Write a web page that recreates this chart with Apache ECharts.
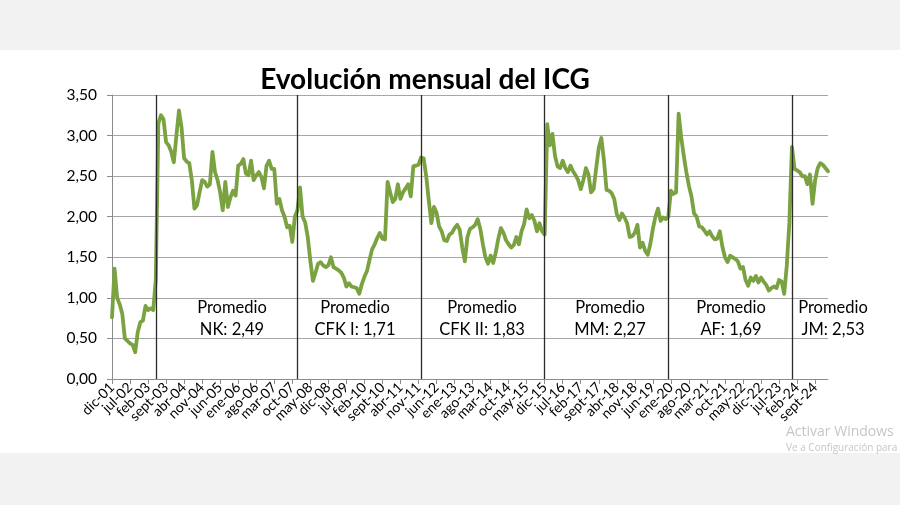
<!DOCTYPE html>
<html><head><meta charset="utf-8">
<script src="https://cdn.jsdelivr.net/npm/echarts@6/dist/echarts.min.js"></script>
<style>
html,body{margin:0;padding:0}
#c{width:900px;height:505px;background:linear-gradient(#f2f2f2 0px,#f2f2f2 50px,#ffffff 50px,#ffffff 453px,#f2f2f2 453px,#f2f2f2 505px)}
</style>
</head><body><div id="c"></div>
<script>
// Monthly ICG, dic-01 .. feb-25
const icg = [
  0.76,1.36,1.00,0.92,0.80,0.50,0.47,0.44,0.42,0.33,
  0.58,0.70,0.72,0.90,0.85,0.87,0.85,1.22,3.15,3.25,
  3.20,2.92,2.88,2.80,2.67,3.00,3.31,3.10,2.72,2.68,
  2.66,2.45,2.10,2.14,2.30,2.45,2.43,2.37,2.40,2.80,
  2.55,2.45,2.30,2.08,2.43,2.12,2.24,2.32,2.26,2.63,
  2.65,2.71,2.53,2.51,2.69,2.45,2.51,2.55,2.49,2.35,
  2.63,2.69,2.59,2.59,2.16,2.22,2.08,2.00,1.87,1.89,
  1.69,2.00,2.08,2.36,2.00,1.93,1.75,1.46,1.21,1.31,
  1.42,1.44,1.40,1.38,1.40,1.50,1.38,1.36,1.34,1.31,
  1.25,1.14,1.18,1.14,1.13,1.12,1.05,1.17,1.26,1.33,
  1.47,1.60,1.66,1.74,1.80,1.73,1.72,2.43,2.30,2.18,
  2.22,2.40,2.22,2.30,2.35,2.40,2.25,2.62,2.63,2.64,
  2.73,2.72,2.50,2.20,1.92,2.12,2.05,1.88,1.82,1.71,
  1.70,1.78,1.80,1.86,1.90,1.84,1.62,1.45,1.75,1.85,
  1.87,1.90,1.97,1.85,1.66,1.50,1.42,1.52,1.43,1.56,
  1.73,1.86,1.80,1.71,1.66,1.62,1.65,1.75,1.66,1.82,
  1.91,2.09,1.98,2.02,1.95,1.82,1.92,1.82,1.78,3.14,
  2.88,3.02,2.75,2.62,2.60,2.69,2.60,2.55,2.63,2.56,
  2.51,2.45,2.34,2.45,2.60,2.52,2.30,2.34,2.60,2.85,
  2.97,2.70,2.33,2.32,2.29,2.22,2.03,1.96,2.04,1.99,
  1.92,1.75,1.76,1.80,1.90,1.62,1.68,1.58,1.53,1.66,
  1.85,2.00,2.10,1.95,1.99,1.97,2.00,2.32,2.28,2.30,
  3.27,2.98,2.75,2.55,2.38,2.25,2.04,2.00,1.88,1.87,
  1.83,1.78,1.82,1.76,1.72,1.73,1.82,1.63,1.50,1.44,
  1.52,1.50,1.48,1.45,1.36,1.38,1.22,1.15,1.25,1.21,
  1.27,1.19,1.25,1.20,1.16,1.09,1.12,1.14,1.12,1.22,
  1.20,1.05,1.40,1.93,2.86,2.59,2.57,2.55,2.50,2.50,
  2.40,2.52,2.16,2.45,2.60,2.66,2.64,2.60,2.56
];
const monthNames = ['ene','feb','mar','abr','may','jun','jul','ago','sept','oct','nov','dic'];
const firstYear = 2001, firstMonth = 11; // dic-01
const categories = icg.map((_, i) => {
  const k = firstMonth + i;
  return monthNames[k % 12] + '-' + String((firstYear + Math.floor(k / 12)) % 100).padStart(2, '0');
});
const labelStep = 7;
const termStarts = ['may-03','dic-07','dic-11','dic-15','dic-19','dic-23'];
const promedioLabels = ['NK: 2,49','CFK I: 1,71','CFK II: 1,83','MM: 2,27','AF: 1,69','JM: 2,53'];
const promedioCenters = [232, 355, 482, 610, 731, 833];

const FONT = 'Lato';
const chart = echarts.init(document.getElementById('c'), null, {renderer: 'canvas'});
const graphics = promedioLabels.map((t, k) => ({
  type: 'text', x: promedioCenters[k], y: 297,
  style: { text: 'Promedio\n' + t, align: 'center', verticalAlign: 'top',
           font: '16.5px ' + FONT, fill: '#000', lineHeight: 22 }
}));
graphics.push({ type: 'text', x: 786, y: 432, style: { text: 'Activar Windows', verticalAlign: 'middle', font: '14px "Open Sans"', fill: '#c6c6c6' } });
graphics.push({ type: 'text', x: 786, y: 448, style: { text: 'Ve a Configuración para', verticalAlign: 'middle', font: '10px "Open Sans"', fill: '#c6c6c6' } });

chart.setOption({
  backgroundColor: 'transparent',
  animation: false,
  title: {
    text: 'Evolución mensual del ICG', left: 420, top: 61, textAlign: 'center',
    textStyle: { fontFamily: FONT, fontWeight: 'bold', fontSize: 28, color: '#000' }
  },
  grid: { left: 112, right: 72, top: 95, bottom: 126 },
  xAxis: {
    type: 'category', data: categories, boundaryGap: false,
    axisLine: { lineStyle: { color: '#8c8c8c', width: 1 } },
    axisTick: { show: true, interval: (i) => i % labelStep === 0, length: 5, lineStyle: { color: '#8c8c8c' } },
    axisLabel: { interval: 0, hideOverlap: false,
                 formatter: (v, i) => (i % labelStep === 0 ? v : ''),
                 rotate: 45, fontFamily: FONT, fontSize: 14, color: '#000', margin: 6 }
  },
  yAxis: {
    type: 'value', min: 0, max: 3.5, interval: 0.5,
    axisLine: { show: true, lineStyle: { color: '#8c8c8c' } },
    axisTick: { show: true, length: 5, lineStyle: { color: '#8c8c8c' } },
    splitLine: { lineStyle: { color: '#a6a6a6', width: 1 } },
    axisLabel: { formatter: v => v.toFixed(2).replace('.', ','), fontFamily: FONT, fontSize: 15.5, color: '#000', margin: 15 }
  },
  series: [
    {
      type: 'line', data: [], z: 1, silent: true,
      markLine: {
        symbol: ['none','none'], silent: true, label: { show: false },
        lineStyle: { color: '#2b2b2b', width: 1.3, type: 'solid' },
        data: termStarts.map(c => ({ xAxis: c }))
      }
    },
    {
      type: 'line', data: icg, z: 3, showSymbol: false, symbol: 'none',
      lineStyle: { color: '#7aa241', width: 3.8, join: 'round', cap: 'round' },
      itemStyle: { color: '#7aa241' }
    }
  ],
  graphic: graphics
});
</script>
</body></html>
